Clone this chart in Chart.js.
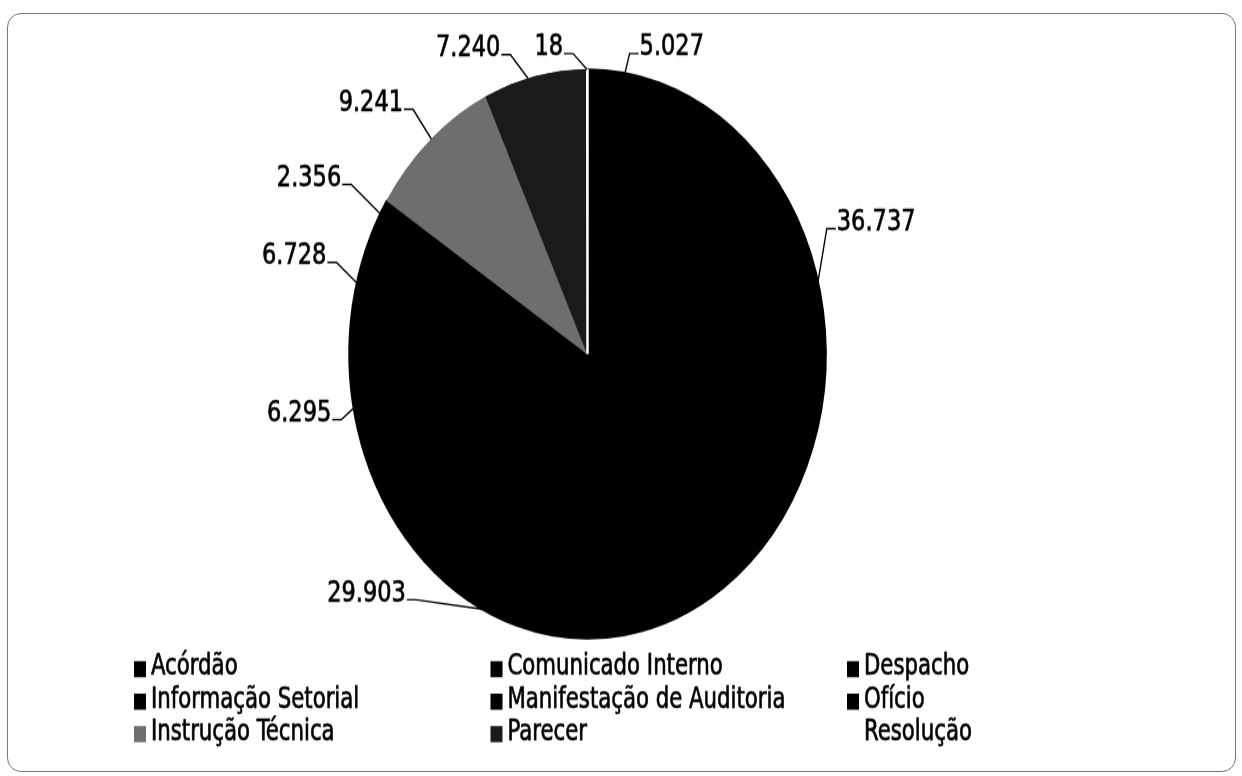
<!DOCTYPE html>
<html>
<head>
<meta charset="utf-8">
<script src="https://cdn.jsdelivr.net/npm/chart.js@4.4.1/dist/chart.umd.min.js"></script>
<style>
  html, body { margin: 0; padding: 0; background: #fff; }
  body { width: 1242px; height: 776px; overflow: hidden; position: relative; }
  #frame {
    position: absolute; left: 7px; top: 13px; width: 1229px; height: 759px;
    border: 1px solid #777; border-radius: 14px; box-sizing: border-box;
  }
  /* the scanned original is stretched vertically, so the chart is drawn flat and scaled */
  #wrap { position: absolute; left: 0; top: 0; width: 1242px; height: 650px;
    transform: scaleY(1.1938); transform-origin: 0 0; }
</style>
</head>
<body>
<div id="frame"></div>
<div id="wrap"><canvas id="pieChart" width="1242" height="650"></canvas></div>
<script>
// Document types and their counts
const categories = [
  'Acórdão', 'Comunicado Interno', 'Despacho',
  'Informação Setorial', 'Manifestação de Auditoria', 'Ofício',
  'Instrução Técnica', 'Parecer', 'Resolução'
];
const counts = [5027, 36737, 29903, 6295, 6728, 2356, 9241, 7240, 18];
const sliceColors = ['#000', '#000', '#000', '#000', '#000', '#000', '#6e6e6e', '#1a1a1a', '#fff'];

// where each value label sits (degrees clockwise from top, radius factor)
const labelAngle = [9.5, 66.3, 219.8, 257.4, 287, 301, 319.6, 342.9, 356.7];
const labelRadius = [1.071, 1.097, 1.125, 1.059, 1.102, 1.157, 1.13, 1.101, 1.058];

const FONT = "25px 'DejaVu Sans Condensed', 'DejaVu Sans', sans-serif";

function fmt(v) {
    return String(v).replace(/\B(?=(\d{3})+(?!\d))/g, '.');
}

// text a little heavier, like the scan
function inkText(ctx, str, x, y) {
    ctx.fillText(str, x, y);
    ctx.strokeText(str, x, y);
}

// value labels with leader lines
const leaderLabels = {
    id: 'leaderLabels',
    afterDatasetsDraw(chart) {
        const ctx = chart.ctx;
        const meta = chart.getDatasetMeta(0);
        ctx.save();
        ctx.font = FONT;
        ctx.fillStyle = '#000';
        ctx.strokeStyle = '#000';
        meta.data.forEach((arc, i) => {
            const p = arc.getProps(['x', 'y', 'startAngle', 'endAngle', 'outerRadius'], true);
            const mid = (p.startAngle + p.endAngle) / 2;
            const a = labelAngle[i] * Math.PI / 180 - Math.PI / 2;
            const ex = p.x + Math.cos(a) * p.outerRadius * labelRadius[i];
            const ey = p.y + Math.sin(a) * p.outerRadius * labelRadius[i];
            let la = mid * 0.6 + a * 0.4;
            la = Math.min(Math.max(la, p.startAngle), p.endAngle);
            const sx = p.x + Math.cos(la) * p.outerRadius;
            const sy = p.y + Math.sin(la) * p.outerRadius;
            const side = ex < p.x ? -1 : 1;
            const tx = ex + side * 9;
            ctx.lineWidth = 1.4;
            ctx.beginPath();
            ctx.moveTo(sx, sy);
            ctx.lineTo(ex, ey);
            ctx.lineTo(tx, ey);
            ctx.stroke();
            ctx.lineWidth = 0.6;
            ctx.textAlign = side < 0 ? 'right' : 'left';
            ctx.textBaseline = 'alphabetic';
            inkText(ctx, fmt(counts[i]), tx + side * 1, ey + 1.5);
        });
        ctx.restore();
    }
};

// three-column legend under the pie
const gridLegend = {
    id: 'gridLegend',
    afterDraw(chart) {
        const ctx = chart.ctx;
        const colors = chart.data.datasets[0].backgroundColor;
        ctx.save();
        ctx.font = FONT;
        ctx.textAlign = 'left';
        ctx.textBaseline = 'alphabetic';
        ctx.strokeStyle = '#000';
        ctx.lineWidth = 0.6;
        chart.data.labels.forEach((lab, i) => {
            const col = i % 3, row = Math.floor(i / 3);
            const x = 134 + col * 356.5;
            const base = 565.3 + row * 27.2;
            ctx.fillStyle = colors[i];
            ctx.fillRect(x, base - 11.5, 12, 13.5);
            ctx.fillStyle = '#000';
            ctx.save();
            ctx.translate(x + 17, base);
            ctx.scale(0.945, 1);
            inkText(ctx, lab, 0, 0);
            ctx.restore();
        });
        ctx.restore();
    }
};

const ctx = document.getElementById('pieChart').getContext('2d');
new Chart(ctx, {
    type: 'pie',
    data: {
        labels: categories,
        datasets: [{
            data: counts,
            backgroundColor: sliceColors,
            borderColor: ['#000', '#000', '#000', '#000', '#000', '#000', '#6e6e6e', '#1a1a1a', '#fff'],
            borderWidth: [2, 2, 2, 2, 2, 2, 1, 1, 2.5]
        }]
    },
    options: {
        responsive: false,
        animation: false,
        layout: { padding: { left: 0, right: 67, top: 57, bottom: 114 } },
        plugins: {
            legend: { display: false },
            tooltip: { enabled: false }
        }
    },
    plugins: [leaderLabels, gridLegend]
});
</script>
</body>
</html>
